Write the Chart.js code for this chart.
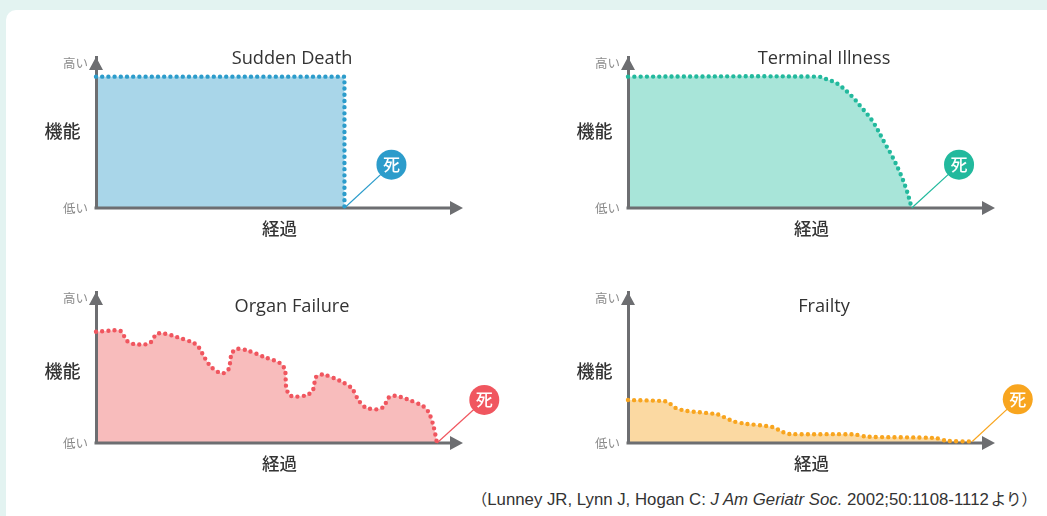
<!DOCTYPE html>
<html lang="ja">
<head>
<meta charset="utf-8">
<title>Illness trajectories</title>
<script src="https://cdn.jsdelivr.net/npm/chart.js@4"></script>
<style>
    html, body { margin: 0; height: 100%; overflow: hidden; background: #e3f3f1; }
    #card { position: absolute; left: 6px; top: 10px; width: 1060px; height: 530px; background: #fff; border-radius: 10px; }
    canvas { position: absolute; }
    #source {
        position: absolute; left: 470px; top: 487px; width: 567px; text-align: right; white-space: nowrap;
        font: 16.8px "Liberation Sans", sans-serif; color: #333;
    }
    #source span { font-family: "Noto Sans CJK JP"; font-size: 15.5px; }
</style>
</head>
<body>
<div id="card"></div>
<canvas id="sudden"></canvas>
<canvas id="terminal"></canvas>
<canvas id="organ"></canvas>
<canvas id="frailty"></canvas>
<div id="source"><span>（</span>Lunney JR, Lynn J, Hogan C: <i>J Am Geriatr Soc.</i> 2002;50:1108-1112<span style="margin-left:2px">より）</span></div>

<script>
// x is percent of the axis length, y is percent of the axis height
const suddenX = [0, 67.7, 67.7];
const suddenY = [87, 87, 0];
const suddenBadge = [80.5, 28.7];

const terminalX = [0, 51.9, 53.8, 57, 61, 63.4, 66.7, 70.1, 71.9, 74.2, 76, 77.3];
const terminalY = [87, 87, 85.6, 82.4, 74, 67.3, 57.3, 42.4, 34.7, 22.9, 11.3, 0];
const terminalBadge = [90.2, 28.7];

const organX = [0, 3.8, 6.7, 8.4, 10.2, 13.4, 14.9, 16.5, 18.4, 22, 26.5, 27.9, 29.7, 31.5, 34.3, 36.1, 37, 38.4, 41.1, 45.6, 50.2, 51.5, 51.8, 52.7, 54.3, 57.5, 59.1, 60, 62, 66.5, 69.7, 71.5, 73.4, 76.5, 78.4, 79.7, 81.3, 84.7, 89.3, 90.8, 92, 92.9];
const organY = [73.7, 74.4, 74.2, 67.8, 65.6, 65.3, 66.7, 72.2, 72.6, 70.2, 66.4, 63.8, 56.1, 50.1, 46.1, 48.8, 59.4, 62.3, 61.4, 57.2, 52.8, 48.3, 37.3, 31.8, 30.7, 31.8, 35.1, 43.9, 45.3, 41.1, 36.2, 28.5, 23.6, 22.3, 24.1, 30, 31.3, 29.1, 24.1, 19.6, 10.8, 0];
const organBadge = [105.8, 28.5];

const frailtyX = [0, 10.2, 11.6, 13, 15.7, 24.3, 26.1, 28.8, 32, 39.3, 42, 43.8, 61.5, 65.1, 83.7, 86.9, 93.8];
const frailtyY = [28.5, 27.6, 25.8, 23.2, 21.4, 19, 17.2, 14.3, 12.8, 10.6, 7.5, 6, 5.7, 4.2, 3.3, 1.5, 1];
const frailtyBadge = [106.2, 28.9];

const yTickValues = [96, 0];
const yTickLabels = ['高い', '低い'];
const xTickValues = [50];
const xTickLabels = ['経過'];
const yTitle = '機能';
const deathLabel = '死';
const jpFont = '"Noto Sans CJK JP"';
const axisColor = '#6d6e71';

function toPoints(xs, ys) {
    return xs.map((x, i) => ({ x: x, y: ys[i] }));
}

// the x scale runs past 100 so the badges stay in the chart area,
// the axis itself stops at 100 and is drawn here
const panelText = {
    id: 'panelText',
    beforeDatasetsDraw(chart) {
        const { ctx, chartArea: area, scales } = chart;
        const tip = scales.x.getPixelForValue(100);
        ctx.save();
        ctx.strokeStyle = axisColor;
        ctx.lineWidth = 3;
        ctx.beginPath();
        ctx.moveTo(area.left - 1.5, area.bottom);
        ctx.lineTo(tip - 8, area.bottom);
        ctx.stroke();

        ctx.fillStyle = axisColor;
        ctx.beginPath();
        ctx.moveTo(area.left, area.top);
        ctx.lineTo(area.left - 7, area.top + 13);
        ctx.lineTo(area.left + 7, area.top + 13);
        ctx.closePath();
        ctx.moveTo(tip, area.bottom);
        ctx.lineTo(tip - 13, area.bottom - 7);
        ctx.lineTo(tip - 13, area.bottom + 7);
        ctx.closePath();
        ctx.fill();
        ctx.restore();
    },
    afterDraw(chart, args, opts) {
        const { ctx, chartArea: area, scales } = chart;
        ctx.save();
        ctx.textAlign = 'center';
        ctx.textBaseline = 'middle';
        ctx.fillStyle = '#333';
        ctx.font = '18.2px "Open Sans"';
        ctx.fillText(opts.title, area.left + opts.titleOffset, scales.y.getPixelForValue(opts.titleValue));
        ctx.font = `500 18px ${jpFont}`;
        ctx.fillText(yTitle, area.left - 33.5, scales.y.getPixelForValue(opts.yTitleValue));

        const badge = chart.getDatasetMeta(1).data[1];
        ctx.fillStyle = '#fff';
        ctx.font = `500 17px ${jpFont}`;
        ctx.fillText(deathLabel, badge.x, badge.y);
        ctx.restore();
    }
};

function drawPanel(id, left, top, width, title, xs, ys, badge, line, fill, tension, titleValue, yTitleValue) {
    const canvas = document.getElementById(id);
    canvas.width = width;
    canvas.height = 210;
    canvas.style.left = `${left}px`;
    canvas.style.top = `${top}px`;

    new Chart(canvas, {
        type: 'scatter',
        data: {
            datasets: [
                {
                    data: toPoints(xs, ys),
                    showLine: true,
                    borderColor: line,
                    backgroundColor: fill,
                    borderWidth: 4.4,
                    borderDash: [0, 6.2],
                    borderCapStyle: 'round',
                    pointRadius: 0,
                    tension: tension,
                    fill: 'origin',
                    clip: false
                },
                {
                    data: toPoints([xs[xs.length - 1], badge[0]], [ys[ys.length - 1], badge[1]]),
                    showLine: true,
                    borderColor: line,
                    borderWidth: 1.2,
                    backgroundColor: line,
                    pointBorderWidth: 0,
                    pointRadius: [0, 15],
                    fill: false,
                    clip: false
                }
            ]
        },
        options: {
            responsive: false,
            animation: false,
            events: [],
            layout: { padding: { left: 16, top: 17, right: width - 76 - 403.7, bottom: 2 } },
            plugins: {
                legend: { display: false },
                tooltip: { enabled: false },
                filler: { drawTime: 'beforeDraw' },
                panelText: { title: title, titleOffset: 196, titleValue: titleValue, yTitleValue: yTitleValue }
            },
            scales: {
                x: {
                    type: 'linear',
                    min: 0,
                    max: 110,
                    afterFit: scale => { scale.height = 40; },
                    afterBuildTicks: scale => { scale.ticks = xTickValues.map(v => ({ value: v })); },
                    grid: { display: false, drawTicks: false },
                    border: { display: false },
                    ticks: {
                        maxRotation: 0,
                        padding: 10,
                        color: '#333',
                        font: { size: 17.5, weight: '500', family: jpFont },
                        callback: value => xTickLabels[xTickValues.indexOf(value)]
                    }
                },
                y: {
                    type: 'linear',
                    min: 0,
                    max: 100,
                    afterFit: scale => { scale.width = 60; },
                    afterBuildTicks: scale => { scale.ticks = yTickValues.map(v => ({ value: v })); },
                    grid: { display: false, drawTicks: false },
                    border: { display: true, color: axisColor, width: 3 },
                    ticks: {
                        maxRotation: 0,
                        padding: 8,
                        color: '#8a8a8a',
                        font: { size: 12.5, family: jpFont },
                        callback: value => yTickLabels[yTickValues.indexOf(value)]
                    }
                }
            }
        },
        plugins: [panelText]
    });
}

drawPanel('sudden', 20, 40, 520, 'Sudden Death', suddenX, suddenY, suddenBadge, '#2c9ccb', '#a9d6e9', 0, 99, 51);
drawPanel('terminal', 552, 40, 495, 'Terminal Illness', terminalX, terminalY, terminalBadge, '#22b99d', '#a8e5d9', 0.35, 99, 51);
drawPanel('organ', 20, 275, 520, 'Organ Failure', organX, organY, organBadge, '#f0565f', '#f8bcbc', 0.3, 90.5, 47.7);
drawPanel('frailty', 552, 275, 495, 'Frailty', frailtyX, frailtyY, frailtyBadge, '#f8a51f', '#fbd9a2', 0.3, 90.5, 47.7);
</script>
</body>
</html>
